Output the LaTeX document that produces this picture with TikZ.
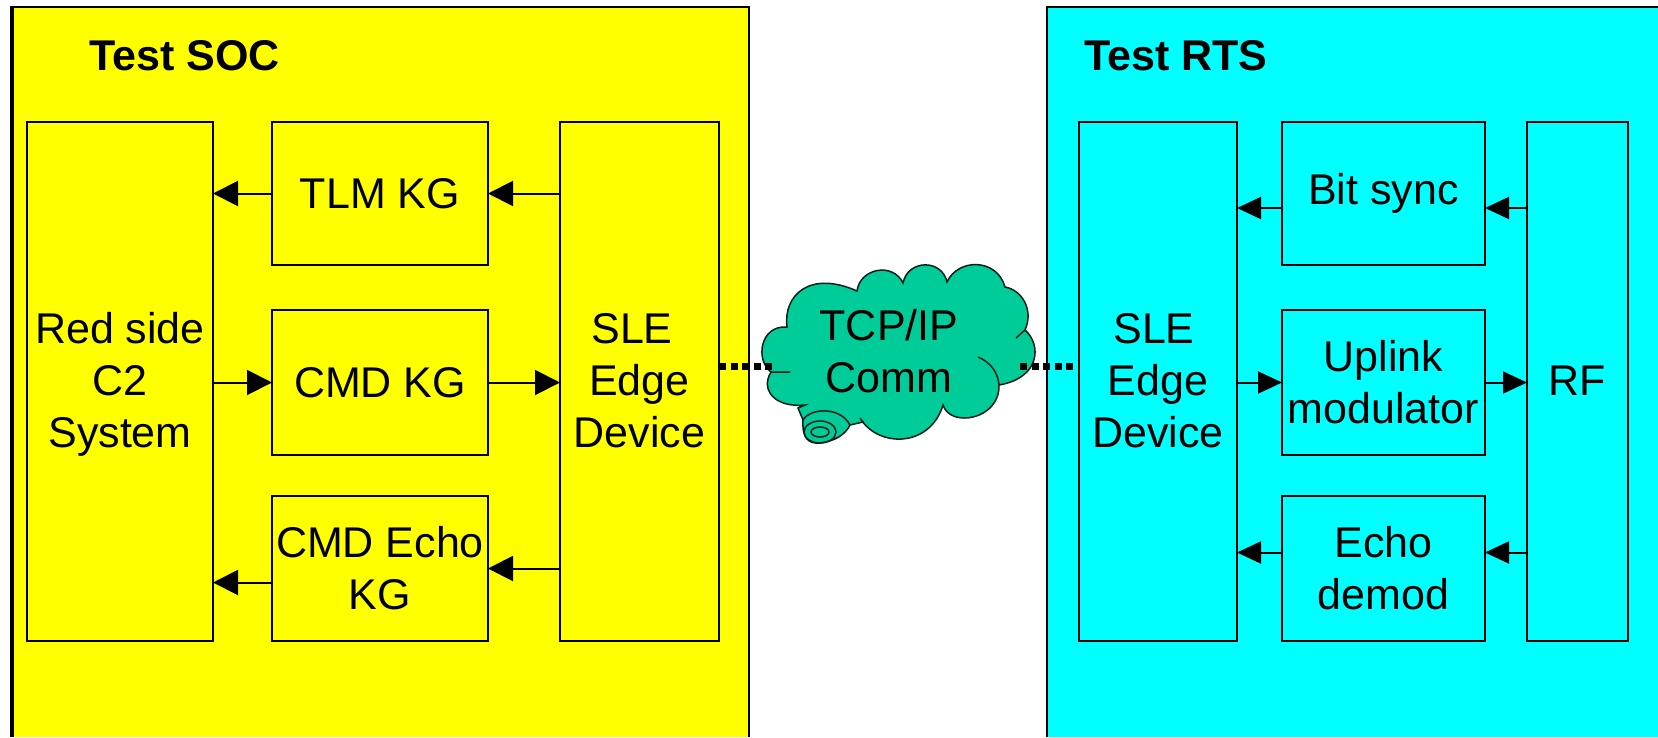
\documentclass[tikz,border=0pt]{standalone}
\usepackage{fontspec}
\setmainfont{Liberation Sans}
\usetikzlibrary{arrows.meta}
\definecolor{cloudgreen}{HTML}{00CC99}
\definecolor{panelyellow}{HTML}{FFFF00}
\definecolor{panelcyan}{HTML}{00FFFF}
\begin{document}
\begin{tikzpicture}[x=1pt,y=-1pt,line join=miter,
	blk/.style={draw,line width=2pt,outer sep=0,inner sep=0,align=center,
		font=\fontsize{43}{52}\selectfont},
	lnk/.style={-{Triangle[length=25pt,width=25pt]},line width=2pt},
	lnkr/.style={-{Triangle[length=24pt,width=22pt]},line width=2pt},
	dotlnk/.style={line width=7pt,dash pattern=on 7pt off 4.5pt},
	cld/.style={line width=1.5pt,draw=black!85!cloudgreen},
	ttl/.style={font=\bfseries\fontsize{43}{50}\selectfont,anchor=base west,inner sep=0}]
	\useasboundingbox (0,0) rectangle (1658,737);
	% panels
	\fill[panelyellow] (12,7) rectangle (749,737);
	\fill[panelcyan] (1047,7) rectangle (1658,737);
	\draw[line width=4pt] (12,737)--(12,6);
	\draw[line width=2pt] (11,7)--(749,7)--(749,737);
	\draw[line width=2pt] (1047,737)--(1047,7)--(1658,7);
	\path (89,70)node[ttl](soc){Test SOC}
	(1084,70)node[ttl](rts){Test RTS};
	% left side
	\path (120,381)node[blk,minimum width=186,minimum height=519,text depth=3pt](red){Red side\\C2\\System}
	(380,193.5)node[blk,minimum width=216,minimum height=143](tlm){TLM KG}
	(380,382.5)node[blk,minimum width=216,minimum height=145](cmd){CMD KG}
	(380,568.5)node[blk,minimum width=216,minimum height=145](echo){CMD Echo\\KG}
	(639.5,381)node[blk,minimum width=159,minimum height=519](sle){SLE\hspace*{15pt}\\Edge\\Device};
	% right side
	\path (1158,381)node[blk,minimum width=158,minimum height=519](sler){SLE\hspace*{8pt}\\Edge\\Device}
	(1383.5,193.5)node[blk,minimum width=203,minimum height=143](bit){Bit sync}
	(1383.5,382.5)node[blk,minimum width=203,minimum height=145](upl){Uplink\\modulator}
	(1383.5,568.5)node[blk,minimum width=203,minimum height=145](dem){Echo\\demod}
	(1577.5,381)node[blk,minimum width=101,minimum height=519](rf){RF};
	% cloud
	\draw[cld,fill=cloudgreen] (787,327)
	.. controls (783,295) and (810,270) .. (857,291)
	.. controls (860,268) and (893,262) .. (903,283)
	.. controls (908,259) and (942,259) .. (947,282)
	.. controls (958,258) and (997,258) .. (1005,287)
	.. controls (1022,290) and (1034,310) .. (1025,330)
	.. controls (1042,345) and (1040,378) .. (999,385)
	.. controls (1000,420) and (950,428) .. (943,405)
	.. controls (930,448) and (878,448) .. (860,418)
	-- (863,422) -- (850,425)
	.. controls (845,435) and (835,441) .. (820,443)
	.. controls (808,444) and (802,438) .. (803,420)
	-- (798,408) -- (805,405)
	.. controls (775,408) and (760,390) .. (771,372)
	.. controls (755,360) and (760,325) .. (787,327) -- cycle;
	\draw[cld] (771,372)--(790,372)
	(978,357)..controls (990,362) and (998,372)..(999,385)
	(1025,330)--(1016,338)
	(803,420)..controls (810,408) and (840,406)..(850,425);
	\draw[cld] (820,432) ellipse (16 and 11) (820,432) ellipse (9 and 5);
	\path (889,351)node[inner sep=0,align=center,font=\fontsize{43}{52}\selectfont](comm){TCP/IP\\Comm};
	\coordinate (cl) at (775,366);
	\coordinate (cr) at (1020,366);
	% links
	\draw[dotlnk] (sle.east|-cl)--(cl);
	\draw[dotlnk] (cr)--(sler.west|-cr);
	\draw[lnk] (tlm.west)--(tlm.west-|red.east);
	\draw[lnk] (sle.west|-tlm)--(tlm.east);
	\draw[lnk] (red.east|-cmd)--(cmd.west);
	\draw[lnk] (cmd.east)--(sle.west|-cmd);
	\draw[lnk] ([yshift=-14pt]echo.west)--([yshift=-14pt]echo.west-|red.east);
	\draw[lnk] (sle.west|-echo)--(echo.east);
	\draw[lnkr] ([yshift=-14.5pt]bit.west)--([yshift=-14.5pt]bit.west-|sler.east);
	\draw[lnkr] ([yshift=-14.5pt]rf.west|-bit)--([yshift=-14.5pt]bit.east);
	\draw[lnkr] (sler.east|-upl)--(upl.west);
	\draw[lnkr] (upl.east)--(rf.west|-upl);
	\draw[lnkr] ([yshift=16pt]dem.west)--([yshift=16pt]dem.west-|sler.east);
	\draw[lnkr] ([yshift=16pt]rf.west|-dem)--([yshift=16pt]dem.east);
\end{tikzpicture}
\end{document}
